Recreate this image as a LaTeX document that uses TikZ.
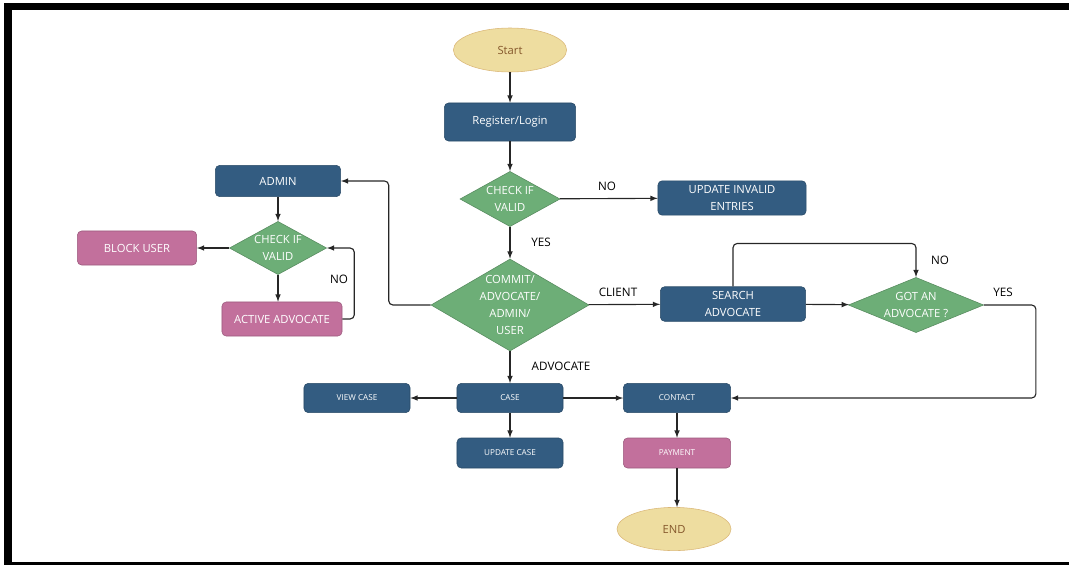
\documentclass[tikz,border=0pt]{standalone}
\usepackage{fontspec}
\setmainfont{Open Sans}
\usepackage{tikz}
\usetikzlibrary{arrows,shapes.geometric,calc}
\definecolor{boxblue}{HTML}{335C81}
\definecolor{boxgreen}{HTML}{6DAE77}
\definecolor{boxpink}{HTML}{C2709C}
\definecolor{boxsand}{HTML}{EEDDA0}
\tikzset{
  bluebox/.style={rectangle, rounded corners=3pt, fill=boxblue, draw=boxblue!80!black, text=white, align=center, font=\fontsize{8}{12}\selectfont},
  smallbox/.style={bluebox, font=\fontsize{5.8}{7}\selectfont},
  pinkbox/.style={bluebox, fill=boxpink, draw=boxpink!80!black},
  checkbox/.style={diamond, aspect=1.7, inner sep=-6pt, fill=boxgreen, draw=boxgreen!80!black, text=white, align=center, font=\fontsize{8}{12}\selectfont},
  endpoint/.style={ellipse, fill=boxsand, draw=boxsand!60!brown, text=brown!70!black, font=\fontsize{8}{9}\selectfont},
  lbl/.style={font=\fontsize{8.3}{10}\selectfont},
  arr/.style={-latex, thick, black!85, rounded corners=3pt}
}
\begin{document}
\begin{tikzpicture}[x=0.025cm, y=-0.025cm]
    \useasboundingbox (0,0) rectangle (1069,565);
    \fill[black] (4,3) rectangle (1069,10);
    \fill[black] (4,3) rectangle (12,565);
    \fill[black] (4,562) rectangle (1069,565);

    \node [endpoint, minimum width=2.83cm, minimum height=1.1cm] (start) at (510,50) {Start};
    \node [bluebox, minimum width=3.28cm, minimum height=0.95cm] (reg) at (510,122) {Register/Login};
    \node [checkbox, minimum width=2.5cm, minimum height=1.38cm] (chk) at (510,199) {CHECK IF\\VALID};
    \node [bluebox, minimum width=3.7cm, minimum height=0.73cm] (updinv) at (732,198) {UPDATE INVALID\\ENTRIES};
    \node [checkbox, minimum width=3.95cm, minimum height=2.3cm] (role) at (510,305) {COMMIT/\\ADVOCATE/\\ADMIN/\\USER};
    \node [bluebox, minimum width=3.63cm, minimum height=0.78cm] (search) at (733,304) {SEARCH\\ADVOCATE};
    \node [checkbox, minimum width=3.38cm, minimum height=1.38cm] (got) at (916,305) {GOT AN\\ADVOCATE ?};
    \node [bluebox, minimum width=3.13cm, minimum height=0.78cm] (admin) at (278,181) {ADMIN};
    \node [checkbox, minimum width=2.43cm, minimum height=1.33cm] (chkadm) at (278,248) {CHECK IF\\VALID};
    \node [pinkbox, minimum width=2.98cm, minimum height=0.85cm] (block) at (137,248) {BLOCK USER};
    \node [pinkbox, minimum width=3cm, minimum height=0.85cm] (active) at (282,319) {ACTIVE ADVOCATE};
    \node [smallbox, minimum width=2.65cm, minimum height=0.73cm] (case) at (510,398) {CASE};
    \node [smallbox, minimum width=2.65cm, minimum height=0.73cm] (view) at (357,398) {VIEW CASE};
    \node [smallbox, minimum width=2.65cm, minimum height=0.75cm] (updcase) at (510,453) {UPDATE CASE};
    \node [smallbox, minimum width=2.68cm, minimum height=0.73cm] (contact) at (677,398) {CONTACT};
    \node [pinkbox, font=\fontsize{5.8}{7}\selectfont, minimum width=2.68cm, minimum height=0.75cm] (pay) at (677,453) {PAYMENT};
    \node [endpoint, minimum width=2.85cm, minimum height=1.08cm] (end) at (674,529) {END};

    \node [lbl] (no1) at (607,186) {NO};
    \node [lbl] (yes1) at (541,242) {YES};
    \node [lbl] (client) at (618,292) {CLIENT};
    \node [lbl] (no2) at (940,260) {NO};
    \node [lbl] (yes2) at (1003,292) {YES};
    \node [lbl] (no3) at (339,279) {NO};
    \node [lbl] (advlbl) at (561,366) {ADVOCATE};

    \draw [arr] (start) -- (reg);
    \draw [arr] (reg) -- (chk);
    \draw [arr] (chk) -- (updinv);
    \draw [arr] (chk) -- (role);
    \draw [arr] (role) -- (search);
    \draw [arr] (search) -- (got);
    \draw [arr] (search.north) -- ++(0,-43) -| (got.north);
    \draw [arr] (got.east) -- ++(52,0) |- (contact.east);
    \draw [arr] (role.west) -- ++(-42,0) |- (admin.east);
    \draw [arr] (admin) -- (chkadm);
    \draw [arr] (chkadm) -- (block);
    \draw [arr] (chkadm.south) -- (chkadm.south |- active.north);
    \draw [arr] (active.east) -- ++(12,0) |- (chkadm.east);
    \draw [arr] (role) -- (case);
    \draw [arr] (case) -- (view);
    \draw [arr] (case) -- (updcase);
    \draw [arr] (case) -- (contact);
    \draw [arr] (contact) -- (pay);
    \draw [arr] (pay.south) -- (pay.south |- end.north);
  \end{tikzpicture}
\end{document}
